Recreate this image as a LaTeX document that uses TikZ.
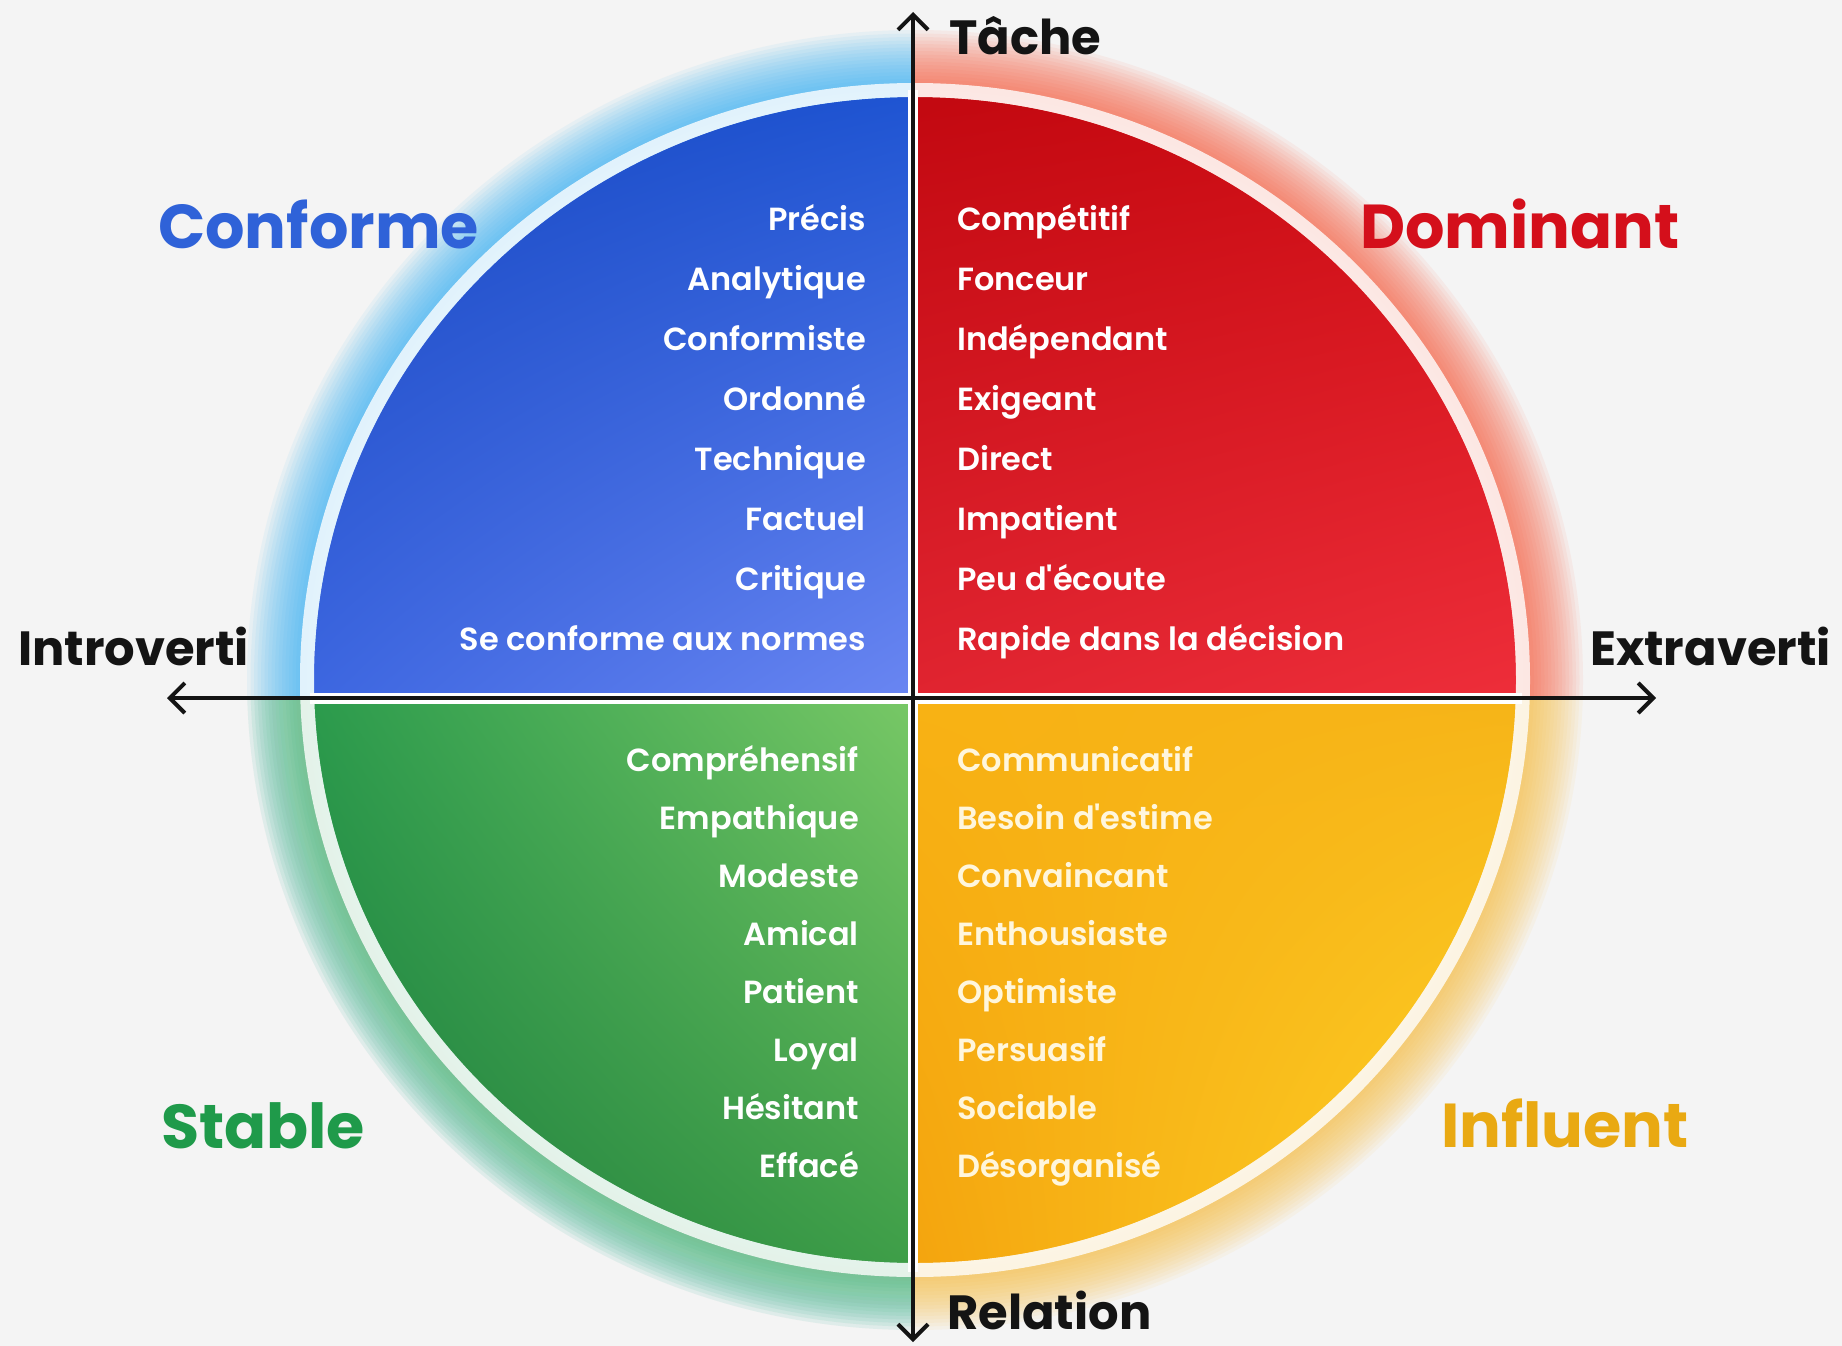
\documentclass[tikz,border=0pt]{standalone}
\usepackage{fontspec}
\setmainfont{Poppins}
\newfontfamily\semifont{Poppins SemiBold}
\usetikzlibrary{arrows.meta,shadings,fadings}

\definecolor{bg}{HTML}{F4F4F4}
\definecolor{confblue}{HTML}{2F62D8}
\definecolor{domred}{HTML}{D40F1B}
\definecolor{stabgreen}{HTML}{1F9A4A}
\definecolor{inflyellow}{HTML}{E9A912}
\definecolor{glowblue}{HTML}{2DAEF2}
\definecolor{glowred}{HTML}{F45A3A}
\definecolor{glowgreen}{HTML}{86CC6E}
\definecolor{glowyellow}{HTML}{F7BE3A}
\definecolor{cream}{HTML}{FFF6DC}
% corner colours of the quarters
\definecolor{bluA}{HTML}{1646C0}
\definecolor{bluB}{HTML}{1E54D2}
\definecolor{bluC}{HTML}{3C66E0}
\definecolor{bluD}{HTML}{6A86F2}
\definecolor{redA}{HTML}{C20810}
\definecolor{redB}{HTML}{CE0C12}
\definecolor{redC}{HTML}{E02430}
\definecolor{redD}{HTML}{EE2E3A}
\definecolor{grnA}{HTML}{2A9A4C}
\definecolor{grnB}{HTML}{78C866}
\definecolor{grnC}{HTML}{1A7A3C}
\definecolor{grnD}{HTML}{3E9E48}
\definecolor{yelA}{HTML}{F8B214}
\definecolor{yelB}{HTML}{F6B418}
\definecolor{yelC}{HTML}{F4A40E}
\definecolor{yelD}{HTML}{FFD82A}

\tikzfading[name=fade down, top color=transparent!0, bottom color=transparent!100]
\tikzfading[name=fade up, top color=transparent!100, bottom color=transparent!0]
\tikzfading[name=fade east, left color=transparent!0, right color=transparent!92]
\tikzfading[name=fade west, left color=transparent!92, right color=transparent!0]

\newcommand\itemfont{\semifont\fontsize{32}{38}\selectfont}
\newcommand\axisfont{\bfseries\fontsize{48}{56}\selectfont}
\newcommand\titlefont{\bfseries\fontsize{62}{72}\selectfont}

\tikzset{
  barb/.tip={Straight Barb[length=15pt, width=30pt, line width=4pt]},
  axis/.style={line width=4.5pt, color=black!92, arrows={barb-barb}},
  axislabel/.style={font=\axisfont, text=black!92, inner sep=0pt, anchor=base west},
  title/.style={font=\titlefont, inner sep=0pt, anchor=base west},
  item/.style={font=\itemfont, text=white, inner sep=0pt},
  glow/.style={color=#1, opacity=.065},
  lowerfade/.style={scope fading=#1,
    fading transform={shift={(456,930)}, xscale=10, yscale=6.4}},
  leftfade/.style={scope fading=fade east,
    fading transform={shift={(560,673)}, xscale=10, yscale=14}},
  rightfade/.style={scope fading=fade west,
    fading transform={shift={(1266,673)}, xscale=10, yscale=14}},
}
\newcommand\halo[2]{% colour, clip rectangle
  \begin{scope}
  \clip #2;
  \foreach \w in {7,14,...,112}
    \draw[glow=#1, line width=\w] (C) ellipse [x radius=612, y radius=594];
  \end{scope}}

\begin{document}
\begin{tikzpicture}[x=1pt, y=-1pt]
\useasboundingbox (0,0) rectangle (1842,1346);
\fill[bg] (0,0) rectangle (1842,1346);
\coordinate (C) at (915,680);
\coordinate (O) at (913,698);
\coordinate (top) at (913,12);
\coordinate (bot) at (913,1342);
\coordinate (lft) at (167,698);
\coordinate (rgt) at (1656,698);

% halo around each quarter, weaker towards the vertical axis
\begin{scope}[leftfade]
  \halo{glowblue}{(0,0) rectangle (913,698)}
\end{scope}
\begin{scope}[rightfade]
  \halo{glowred}{(913,0) rectangle (1842,698)}
\end{scope}
\begin{scope}[leftfade]
  \begin{scope}[lowerfade=fade down]
    \halo{glowblue}{(0,698) rectangle (913,1346)}
  \end{scope}
  \begin{scope}[lowerfade=fade up]
    \halo{glowgreen}{(0,698) rectangle (913,1346)}
  \end{scope}
\end{scope}
\begin{scope}[rightfade]
  \halo{glowyellow}{(913,698) rectangle (1842,1346)}
\end{scope}

% the four quarters
\begin{scope}
\clip (C) ellipse [x radius=601, y radius=583];
\shade[upper left=bluA, upper right=bluB, lower left=bluC, lower right=bluD]
  (300,90) rectangle (913,698);
\shade[upper left=redA, upper right=redB, lower left=redC, lower right=redD]
  (913,90) rectangle (1530,698);
\shade[upper left=grnA, upper right=grnB, lower left=grnC, lower right=grnD]
  (300,698) rectangle (913,1270);
\shade[upper left=yelA, upper right=yelB, lower left=yelC, lower right=yelD]
  (913,698) rectangle (1530,1270);
\end{scope}

% rim and gaps
\draw[white, opacity=.8, line width=14] (C) ellipse [x radius=608, y radius=590];
\draw[white, line width=10] (913,90) -- (913,1272);
\draw[white, line width=11] (310,698) -- (1522,698);

% axes
\draw[axis] (bot) -- (top);
\draw[axis] (lft) -- (rgt);
\node[axislabel] (tache) at (949,55) {Tâche};
\node[axislabel] (relation) at (947,1329) {Relation};
\node[axislabel] (intro) at (18,665) {Introverti};
\node[axislabel] (extra) at (1590,665) {Extraverti};

% quarter titles
\node[title, text=confblue] (conforme) at (158,248) {Conforme};
\node[title, text=domred] (dominant) at (1360,248) {Dominant};
\node[title, text=stabgreen] (stable) at (161,1148) {Stable};
\node[title, text=inflyellow] (influent) at (1441,1147) {Influent};

% traits
\foreach \t [count=\i from 0] in {Précis, Analytique, Conformiste, Ordonné,
    Technique, Factuel, Critique, Se conforme aux normes}
  \node[item, anchor=base east] (c\i) at (866,{230+60*\i}) {\t};
\foreach \t [count=\i from 0] in {Compétitif, Fonceur, Indépendant, Exigeant,
    Direct, Impatient, Peu d'écoute, Rapide dans la décision}
  \node[item, anchor=base west] (d\i) at (957,{230+60*\i}) {\t};
\foreach \t [count=\i from 0] in {Compréhensif, Empathique, Modeste, Amical,
    Patient, Loyal, Hésitant, Effacé}
  \node[item, anchor=base east] (s\i) at (859,{771+58*\i}) {\t};
\foreach \t [count=\i from 0] in {Communicatif, Besoin d'estime, Convaincant,
    Enthousiaste, Optimiste, Persuasif, Sociable, Désorganisé}
  \node[item, anchor=base west, text=cream] (i\i) at (957,{771+58*\i}) {\t};
\end{tikzpicture}
\end{document}
